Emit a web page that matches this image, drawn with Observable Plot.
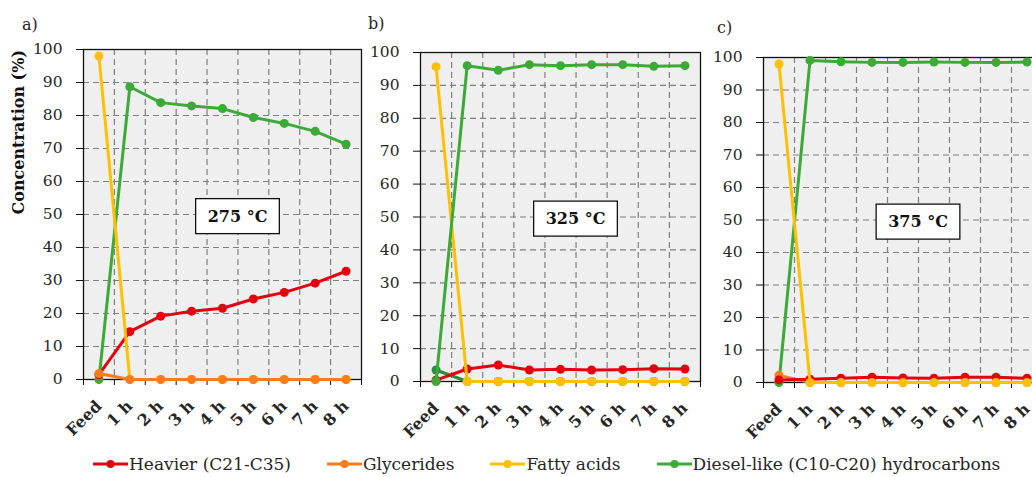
<!DOCTYPE html>
<html><head><meta charset="utf-8">
<script src="https://cdn.jsdelivr.net/npm/d3@7"></script>
<script src="https://cdn.jsdelivr.net/npm/@observablehq/plot@0.6"></script>
<style>
html,body{margin:0;padding:0;background:#fff;overflow:hidden}
#chart{position:relative;width:1032px;height:477px;overflow:hidden;font-family:"DejaVu Serif",serif;color:#262626}
.panel{position:absolute}
.plabel{position:absolute;font-size:16px;line-height:20px}
#legend{position:absolute;left:93px;top:454px;display:flex;gap:36px;font-size:17px;line-height:20px;white-space:nowrap}
.item{display:flex;align-items:center;gap:1px}
</style></head>
<body>
<div id="chart"></div>
<script>
// ---- data ----
const categories = ["Feed", "1 h", "2 h", "3 h", "4 h", "5 h", "6 h", "7 h", "8 h"];
const yTicks = [0, 10, 20, 30, 40, 50, 60, 70, 80, 90, 100];
const seriesNames = ["Heavier (C21-C35)", "Glycerides", "Fatty acids", "Diesel-like (C10-C20) hydrocarbons"];
const seriesColors = ["#e3000f", "#fb7c1e", "#ffc000", "#3caa36"];
const panelLabels = ["a)", "b)", "c)"];
const temperatures = ["275 °C", "325 °C", "375 °C"];
const yTitle = "Concentration (%)";

// panel a (275 °C)
const heavierA    = [1.5, 14.5, 19.2, 20.7, 21.6, 24.4, 26.4, 29.2, 32.8];
const glyceridesA = [1.8, 0, 0, 0, 0, 0, 0, 0, 0];
const fattyA      = [98.0, 0, 0, 0, 0, 0, 0, 0, 0];
const dieselA     = [0, 88.7, 83.9, 82.9, 82.1, 79.4, 77.6, 75.2, 71.3];
// panel b (325 °C)
const heavierB    = [0.4, 3.8, 5.0, 3.5, 3.7, 3.5, 3.6, 3.9, 3.8];
const glyceridesB = [3.5, 0, 0, 0, 0, 0, 0, 0, 0];
const fattyB      = [95.7, 0, 0, 0, 0, 0, 0, 0, 0];
const dieselB     = [0, 96.0, 94.6, 96.3, 96.0, 96.3, 96.3, 95.8, 96.0];
// panel c (375 °C)
const heavierC    = [0.8, 1.0, 1.3, 1.6, 1.4, 1.3, 1.6, 1.6, 1.3];
const glyceridesC = [2.2, 0, 0, 0, 0, 0, 0, 0, 0];
const fattyC      = [98.0, 0, 0, 0, 0, 0, 0, 0, 0];
const dieselC     = [0, 99.1, 98.7, 98.5, 98.5, 98.6, 98.5, 98.5, 98.6];

// ---- styling / layout ----
const glyceridesColorB = "#2f8a3c";
const panels = [
  {values: [heavierA, glyceridesA, fattyA, dieselA], order: [3, 0, 2, 1], colors: seriesColors,
   left: 8, top: 41, ml: 75, w: 278, h: 330, lx: 22, ly: 15, title: true},
  {values: [heavierB, glyceridesB, fattyB, dieselB], order: [1, 0, 2, 3], colors: [seriesColors[0], glyceridesColorB, seriesColors[2], seriesColors[3]],
   left: 375, top: 44, ml: 45, w: 280, h: 329, lx: 368, ly: 14, title: false},
  {values: [heavierC, glyceridesC, fattyC, dieselC], order: [3, 1, 0, 2], colors: seriesColors,
   left: 718, top: 49, ml: 45, w: 279, h: 325, lx: 717, ly: 18, title: false}
];
const MT = 8, MR = 3, MB = 70;
const chart = document.getElementById("chart");
const n = categories.length;
const idx = d3.range(n);
const bounds = d3.range(n + 1).map(i => i - 0.5);
const innerBounds = bounds.slice(1, -1);
const gridVals = yTicks.slice(1, -1);

panels.forEach((p, k) => {
  const marks = [
    Plot.frame({fill: "#efefef", stroke: null}),
    Plot.gridY(gridVals, {stroke: "#7f7f7f", strokeOpacity: 1, strokeWidth: 1.2, strokeDasharray: "6,4"}),
    Plot.gridX(innerBounds, {stroke: "#7f7f7f", strokeOpacity: 1, strokeWidth: 1.2, strokeDasharray: "6,4"}),
    Plot.frame({stroke: "#111", strokeWidth: 1.3}),
    Plot.axisY(yTicks, {tickSize: 7, tickPadding: 14, fontSize: 15.5, stroke: "#111", fill: "#262626", label: null}),
    Plot.axisX(bounds, {tickSize: 6, tickFormat: () => "", stroke: "#111", label: null}),
    Plot.axisX(idx, {tickSize: 0, tickPadding: 24, tickRotate: -45, tickFormat: i => categories[i],
      fontSize: 16, fontWeight: "bold", fill: "#262626", label: null})
  ];
  p.order.forEach(s => {
    const data = p.values[s].map((v, i) => ({i, v}));
    marks.push(Plot.line(data, {x: "i", y: "v", stroke: p.colors[s], strokeWidth: 3, strokeLinejoin: "round"}));
    marks.push(Plot.dot(data, {x: "i", y: "v", fill: p.colors[s], r: 4.5}));
  });
  marks.push(Plot.text([temperatures[k]], {frameAnchor: "middle", dx: 15, dy: 2, fontSize: 16, fontWeight: "bold",
    fill: "#111"}));
  if (p.title) {
    marks.push(Plot.text([yTitle], {frameAnchor: "left", rotate: -90, dx: -65, fontSize: 16, fontWeight: "bold", fill: "#111"}));
  }
  const svg = Plot.plot({
    width: p.ml + p.w + MR,
    height: MT + p.h + MB,
    marginLeft: p.ml, marginRight: MR, marginTop: MT, marginBottom: MB,
    x: {domain: [-0.5, n - 0.5], axis: null},
    y: {domain: [0, 100], axis: null},
    style: {fontFamily: "DejaVu Serif", fontSize: "15px", background: "transparent", overflow: "visible"},
    marks
  });
  svg.classList.add("panel");
  svg.style.left = p.left + "px";
  svg.style.top = p.top + "px";
  chart.appendChild(svg);
  // box around temperature label
  Array.from(svg.querySelectorAll("text")).filter(t => t.textContent === temperatures[k]).forEach(t => {
    const b = t.getBBox();
    const r = document.createElementNS("http://www.w3.org/2000/svg", "rect");
    r.setAttribute("x", b.x - 12);
    r.setAttribute("y", b.y - 8);
    r.setAttribute("width", b.width + 24);
    r.setAttribute("height", b.height + 16);
    r.setAttribute("fill", "white");
    r.setAttribute("stroke", "#111");
    r.setAttribute("stroke-width", 1.3);
    if (t.getAttribute("transform")) r.setAttribute("transform", t.getAttribute("transform"));
    t.parentNode.insertBefore(r, t);
  });
  const lab = document.createElement("div");
  lab.className = "plabel";
  lab.textContent = panelLabels[k];
  lab.style.left = p.lx + "px";
  lab.style.top = p.ly + "px";
  chart.appendChild(lab);
});

// legend
const legend = document.createElement("div");
legend.id = "legend";
seriesNames.forEach((name, i) => {
  const it = document.createElement("div");
  it.className = "item";
  it.innerHTML = `<svg width="35" height="12"><line x1="0" x2="35" y1="6" y2="6" stroke="${seriesColors[i]}" stroke-width="3"/><circle cx="17.5" cy="6" r="4" fill="${seriesColors[i]}"/></svg><span>${name}</span>`;
  legend.appendChild(it);
});
chart.appendChild(legend);
</script>
</body></html>
